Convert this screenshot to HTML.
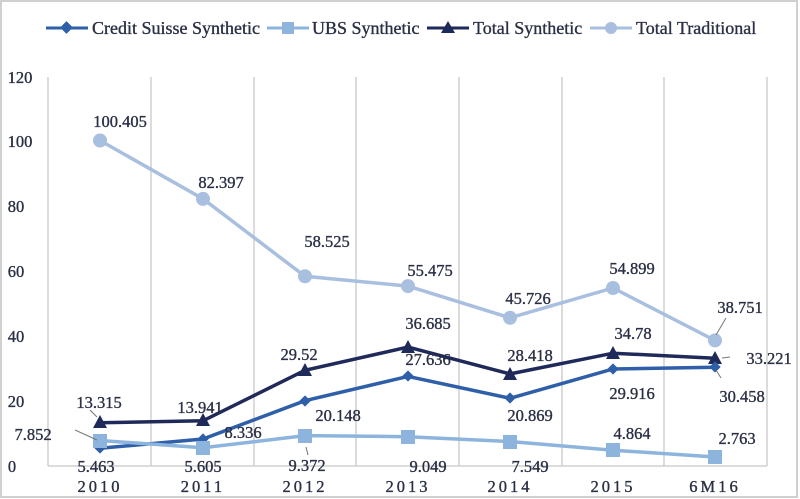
<!DOCTYPE html>
<html><head><meta charset="utf-8"><style>
html,body{margin:0;padding:0;background:#fff;}
svg{display:block;}
text{font-family:"Liberation Serif",serif;fill:#2a2f45;font-size:16.5px;stroke:#2a2f45;stroke-width:0.35;}
.lg{font-size:18px;}
</style></head><body>
<svg width="800" height="499" viewBox="0 0 800 499">
<rect x="1" y="1" width="796" height="496" fill="#fff" stroke="#d0d0d0" stroke-width="2"/>
<g stroke="#c8c8c8" stroke-width="1.3">
<line x1="48" y1="77" x2="48" y2="466"/><line x1="151" y1="77" x2="151" y2="466"/>
<line x1="254" y1="77" x2="254" y2="466"/><line x1="356" y1="77" x2="356" y2="466"/>
<line x1="459" y1="77" x2="459" y2="466"/><line x1="562" y1="77" x2="562" y2="466"/>
<line x1="664" y1="77" x2="664" y2="466"/><line x1="767" y1="77" x2="767" y2="466"/>
<line x1="48" y1="466" x2="767" y2="466"/>
</g>
<g text-anchor="middle">
<text x="20" y="83">120</text><text x="20" y="147">100</text><text x="16" y="212">80</text>
<text x="16" y="277">60</text><text x="16" y="342">40</text><text x="16" y="407">20</text><text x="12" y="472">0</text>
</g>
<g text-anchor="middle" letter-spacing="3">
<text x="100" y="492">2010</text><text x="203" y="492">2011</text><text x="305" y="492">2012</text>
<text x="408" y="492">2013</text><text x="510" y="492">2014</text><text x="613" y="492">2015</text><text x="715" y="492">6M16</text>
</g>
<!-- Legend -->
<g>
<line x1="46" y1="28" x2="88" y2="28" stroke="#2e5fa8" stroke-width="3"/><rect x="62" y="23" width="9" height="9" transform="rotate(45 66.5 27.5)" fill="#2e5fa8"/>
<text class="lg" x="92" y="34">Credit Suisse Synthetic</text>
<line x1="267" y1="28" x2="309" y2="28" stroke="#8db4dd" stroke-width="3"/><rect x="282" y="22" width="12" height="12" fill="#8db4dd"/>
<text class="lg" x="312" y="34">UBS Synthetic</text>
<line x1="427" y1="28" x2="469" y2="28" stroke="#1f2a5a" stroke-width="3"/><polygon points="448,21 455,33 441,33" fill="#1f2a5a"/>
<text class="lg" x="473" y="34">Total Synthetic</text>
<line x1="590" y1="28" x2="632" y2="28" stroke="#a9bfe0" stroke-width="3"/><circle cx="611" cy="28" r="6" fill="#a9bfe0"/>
<text class="lg" x="636" y="34">Total Traditional</text>
</g>
<!-- Trad -->
<polyline fill="none" stroke="#a9bfe0" stroke-width="3.5" points="100,140.5 203,198.9 305,276.3 408,286.1 510,317.8 613,288 715,340.4"/>
<g fill="#a9bfe0"><circle cx="100" cy="140.5" r="7"/><circle cx="203" cy="198.9" r="7"/><circle cx="305" cy="276.3" r="7"/><circle cx="408" cy="286.1" r="7"/><circle cx="510" cy="317.8" r="7"/><circle cx="613" cy="288" r="7"/><circle cx="715" cy="340.4" r="7"/></g>
<!-- Total synthetic -->
<polyline fill="none" stroke="#1f2a5a" stroke-width="3.5" points="100,422.8 203,420.8 305,370.3 408,347.1 510,373.9 613,353.2 715,358.3"/>
<g fill="#1f2a5a"><polygon points="100,415 107,428 93,428"/><polygon points="203,413 210,426 196,426"/><polygon points="305,363 312,376 298,376"/><polygon points="408,340 415,353 401,353"/><polygon points="510,367 517,380 503,380"/><polygon points="613,346 620,359 606,359"/><polygon points="715,351 722,364 708,364"/></g>
<!-- CS -->
<polyline fill="none" stroke="#2e5fa8" stroke-width="3.5" points="100,448.3 203,439 305,400.7 408,376.4 510,398.3 613,369 715,367.3"/>
<g fill="#2e5fa8"><rect x="96" y="444" width="8" height="8" transform="rotate(45 100 448)"/><rect x="199" y="435" width="8" height="8" transform="rotate(45 203 439)"/><rect x="301" y="397" width="8" height="8" transform="rotate(45 305 401)"/><rect x="404" y="372" width="8" height="8" transform="rotate(45 408 376)"/><rect x="506" y="394" width="8" height="8" transform="rotate(45 510 398)"/><rect x="609" y="365" width="8" height="8" transform="rotate(45 613 369)"/><rect x="711" y="363" width="8" height="8" transform="rotate(45 715 367)"/></g>
<!-- UBS -->
<polyline fill="none" stroke="#8db4dd" stroke-width="3.5" points="100,440.5 203,447.8 305,435.6 408,436.7 510,441.5 613,450.2 715,457"/>
<g fill="#8db4dd"><rect x="93" y="434" width="14" height="14"/><rect x="196" y="441" width="14" height="14"/><rect x="298" y="429" width="14" height="14"/><rect x="401" y="430" width="14" height="14"/><rect x="503" y="435" width="14" height="14"/><rect x="606" y="443" width="14" height="14"/><rect x="708" y="450" width="14" height="14"/></g>
<!-- leader lines -->
<g stroke="#777" stroke-width="1">
<line x1="75" y1="430" x2="97" y2="440"/><line x1="90" y1="410" x2="97" y2="417"/>
<line x1="306" y1="447" x2="308" y2="455"/><line x1="726" y1="318" x2="716" y2="335"/>
<line x1="722" y1="358" x2="730" y2="357"/><line x1="716" y1="370" x2="721" y2="378"/>
</g>
<!-- data labels -->
<g text-anchor="middle">
<text x="120" y="127">100.405</text><text x="221" y="188">82.397</text><text x="327" y="247">58.525</text>
<text x="430" y="276">55.475</text><text x="528" y="304">45.726</text><text x="632" y="274">54.899</text><text x="740" y="313">38.751</text>
<text x="99" y="408">13.315</text><text x="200" y="413">13.941</text><text x="299" y="360">29.52</text>
<text x="428" y="329">36.685</text><text x="530" y="361">28.418</text><text x="633" y="339">34.78</text><text x="769" y="364">33.221</text>
<text x="96" y="472">5.463</text><text x="243" y="438">8.336</text><text x="338" y="421">20.148</text>
<text x="428" y="365">27.636</text><text x="530" y="421">20.869</text><text x="632" y="399">29.916</text><text x="742" y="402">30.458</text>
<text x="33" y="440">7.852</text><text x="203" y="472">5.605</text><text x="307" y="471">9.372</text>
<text x="428" y="472">9.049</text><text x="530" y="472">7.549</text><text x="632" y="439">4.864</text><text x="737" y="444">2.763</text>
</g>
</svg>
</body></html>
